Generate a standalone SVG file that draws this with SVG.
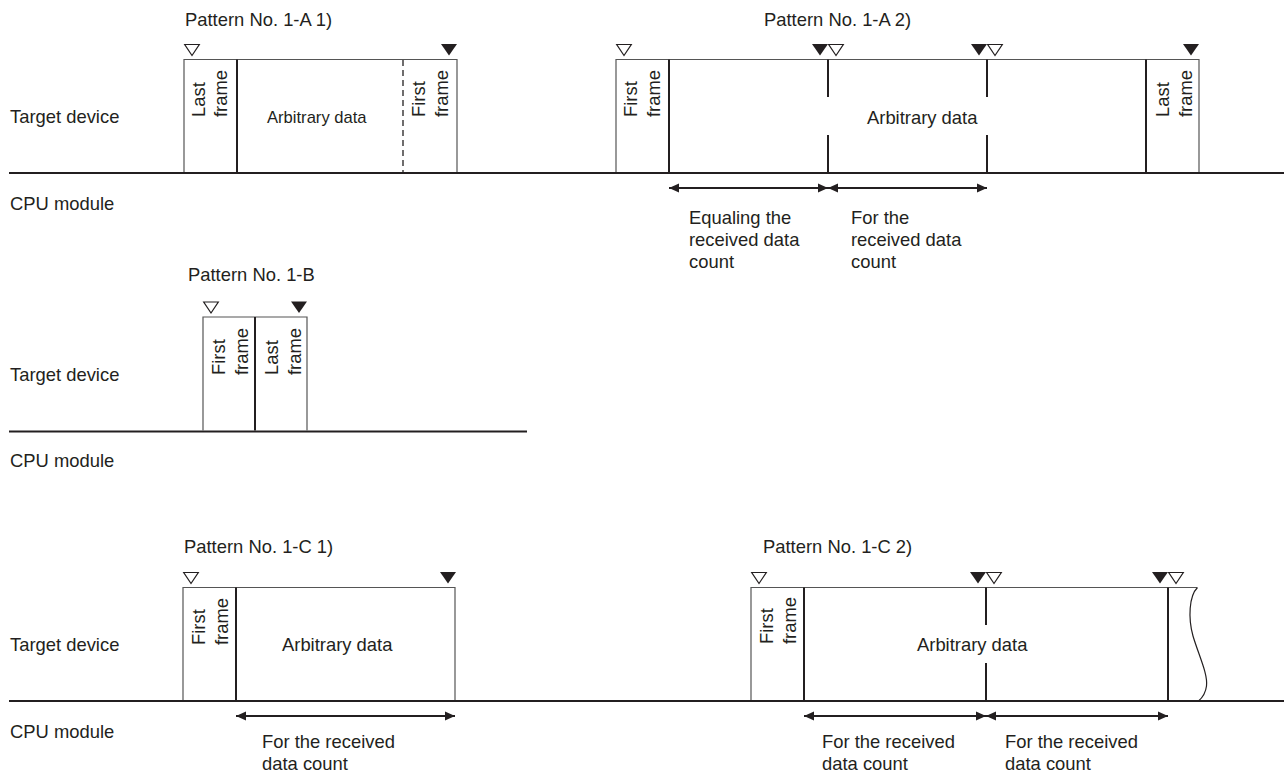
<svg xmlns="http://www.w3.org/2000/svg" width="1284" height="776" viewBox="0 0 1284 776">
<defs>
<style>
text{font-family:"Liberation Sans",Arial,sans-serif;font-size:18.4px;fill:#231f20}
.small{font-size:16.6px}
.base{stroke:#231f20;stroke-width:2;fill:none}
.edge{stroke:#555;stroke-width:1.2;fill:none}
.div{stroke:#231f20;stroke-width:2;fill:none}
.dash{stroke:#231f20;stroke-width:1.3;stroke-dasharray:6 4;fill:none}
.open{fill:#fff;stroke:#231f20;stroke-width:1.2}
.fill{fill:#231f20;stroke:none}
.arr{stroke:#231f20;stroke-width:2;fill:none;marker-start:url(#ah);marker-end:url(#ah)}
.wave{stroke:#231f20;stroke-width:1.2;fill:none}
</style>
<marker id="ah" markerUnits="userSpaceOnUse" markerWidth="11" markerHeight="10" refX="10" refY="5" orient="auto-start-reverse" viewBox="0 0 11 10">
<path d="M0,0.5 L10,5 L0,9.5 z" fill="#231f20"/>
</marker>
</defs>

<g id="labels">
<text x="10" y="123">Target device</text>
<text x="10" y="210">CPU module</text>
<text x="10" y="381">Target device</text>
<text x="10" y="467">CPU module</text>
<text x="10" y="651">Target device</text>
<text x="10" y="738">CPU module</text>
</g>

<g id="baselines">
<line class="base" x1="9" y1="173" x2="1284" y2="173"/>
<line class="base" x1="9" y1="431.5" x2="527" y2="431.5"/>
<line class="base" x1="9" y1="701" x2="1284" y2="701"/>
</g>

<g id="pattern-1A1">
<text x="185" y="26">Pattern No. 1-A 1)</text>
<polyline class="edge" points="184,172 184,59.5 457,59.5 457,172"/>
<line class="div" x1="237" y1="59.5" x2="237" y2="172"/>
<line class="dash" x1="403" y1="60" x2="403" y2="172"/>
<polygon class="open" points="184.7,44.5 199.3,44.5 192,55.5"/>
<polygon class="fill" points="441,44 457,44 449,55.5"/>
<text transform="translate(205,117) rotate(-90)">Last</text>
<text transform="translate(227,117) rotate(-90)">frame</text>
<text class="small" x="267" y="123">Arbitrary data</text>
<text transform="translate(425,117) rotate(-90)">First</text>
<text transform="translate(448,117) rotate(-90)">frame</text>
</g>

<g id="pattern-1A2">
<text x="764" y="26">Pattern No. 1-A 2)</text>
<polyline class="edge" points="616,172 616,59.5 1199,59.5 1199,172"/>
<line class="div" x1="669" y1="59.5" x2="669" y2="172"/>
<line class="div" x1="828" y1="59.5" x2="828" y2="97"/>
<line class="div" x1="828" y1="135" x2="828" y2="172"/>
<line class="div" x1="987" y1="59.5" x2="987" y2="97"/>
<line class="div" x1="987" y1="135" x2="987" y2="172"/>
<line class="div" x1="1146" y1="59.5" x2="1146" y2="172"/>
<polygon class="open" points="616.7,44.5 631.3,44.5 624,55.5"/>
<polygon class="fill" points="812,44 828,44 820,55.5"/>
<polygon class="open" points="828.7,44.5 843.3,44.5 836,55.5"/>
<polygon class="fill" points="971,44 987,44 979,55.5"/>
<polygon class="open" points="987.7,44.5 1002.3,44.5 995,55.5"/>
<polygon class="fill" points="1183,44 1199,44 1191,55.5"/>
<text transform="translate(637,117) rotate(-90)">First</text>
<text transform="translate(660,117) rotate(-90)">frame</text>
<text x="867" y="124">Arbitrary data</text>
<text transform="translate(1169,117) rotate(-90)">Last</text>
<text transform="translate(1192,117) rotate(-90)">frame</text>
<text x="689" y="224">Equaling the</text>
<text x="689" y="246">received data</text>
<text x="689" y="268">count</text>
<text x="851" y="224">For the</text>
<text x="851" y="246">received data</text>
<text x="851" y="268">count</text>
</g>

<g id="pattern-1B">
<text x="188" y="281">Pattern No. 1-B</text>
<polyline class="edge" points="203,430.5 203,317 307,317 307,430.5"/>
<line class="div" x1="255" y1="317" x2="255" y2="430.5"/>
<polygon class="open" points="203.7,302 218.3,302 211,313"/>
<polygon class="fill" points="291,301.5 307,301.5 299,313"/>
<text transform="translate(225,375) rotate(-90)">First</text>
<text transform="translate(248,375) rotate(-90)">frame</text>
<text transform="translate(278,375) rotate(-90)">Last</text>
<text transform="translate(301,375) rotate(-90)">frame</text>
</g>

<g id="pattern-1C1">
<text x="184" y="553">Pattern No. 1-C 1)</text>
<polyline class="edge" points="183,700 183,587.5 455,587.5 455,700"/>
<line class="div" x1="236" y1="587.5" x2="236" y2="700"/>
<polygon class="open" points="183.7,572.5 198.3,572.5 191,583.5"/>
<polygon class="fill" points="440,572 456,572 448,583.5"/>
<text transform="translate(205,645) rotate(-90)">First</text>
<text transform="translate(228,645) rotate(-90)">frame</text>
<text x="282" y="651">Arbitrary data</text>
<text x="262" y="748">For the received</text>
<text x="262" y="770">data count</text>
</g>

<g id="pattern-1C2">
<text x="763" y="553">Pattern No. 1-C 2)</text>
<polyline class="edge" points="751,700 751,587.5 1197,587.5"/>
<line class="div" x1="804" y1="587.5" x2="804" y2="700"/>
<line class="div" x1="986" y1="587.5" x2="986" y2="625"/>
<line class="div" x1="986" y1="663" x2="986" y2="700"/>
<line class="div" x1="1168" y1="587.5" x2="1168" y2="700"/>
<path class="wave" d="M1197.5,587.5 C1189,596 1188,618 1193,636 C1199,656 1208,674 1206.5,686 C1205.5,694 1202,698 1198.5,701"/>
<polygon class="open" points="751.7,572.5 766.3,572.5 759,583.5"/>
<polygon class="fill" points="970,572 986,572 978,583.5"/>
<polygon class="open" points="986.7,572.5 1001.3,572.5 994,583.5"/>
<polygon class="fill" points="1152,572 1168,572 1160,583.5"/>
<polygon class="open" points="1168.7,572.5 1183.3,572.5 1176,583.5"/>
<text transform="translate(773,644) rotate(-90)">First</text>
<text transform="translate(796,644) rotate(-90)">frame</text>
<text x="917" y="651">Arbitrary data</text>
<text x="822" y="748">For the received</text>
<text x="822" y="770">data count</text>
<text x="1005" y="748">For the received</text>
<text x="1005" y="770">data count</text>
</g>

<g id="connectors">
<line class="arr" x1="669" y1="188" x2="828" y2="188"/>
<line class="arr" x1="828" y1="188" x2="987" y2="188"/>
<line class="arr" x1="236" y1="716" x2="455" y2="716"/>
<line class="arr" x1="804" y1="716" x2="986" y2="716"/>
<line class="arr" x1="986" y1="716" x2="1168" y2="716"/>
</g>
</svg>
